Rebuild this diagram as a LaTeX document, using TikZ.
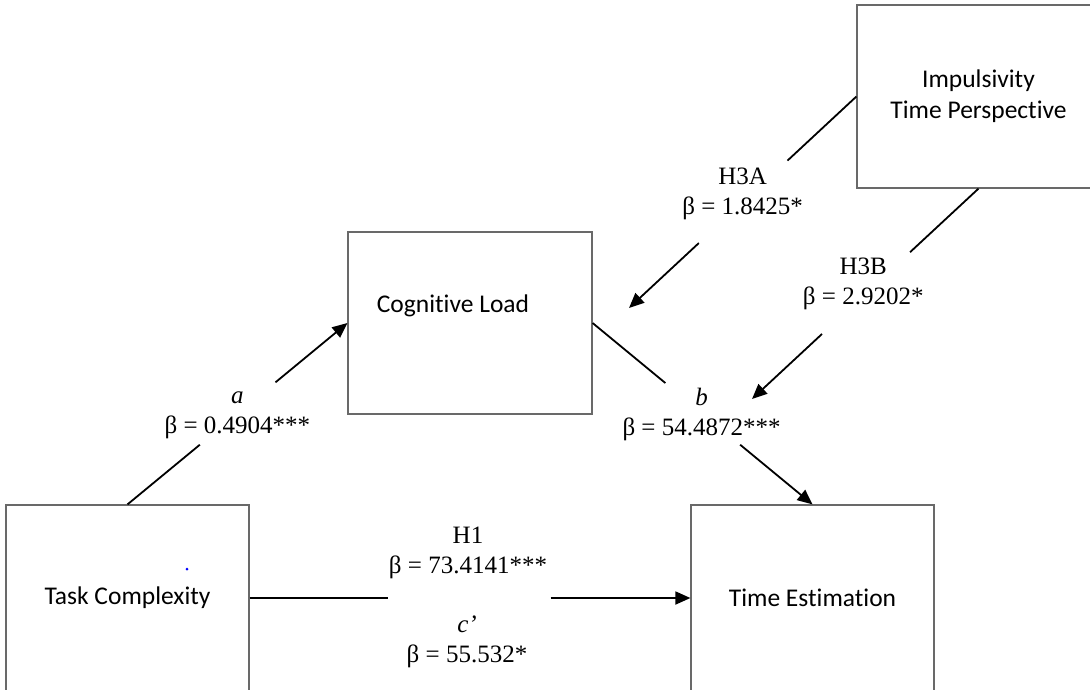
\documentclass[tikz,border=0pt]{standalone}
\usepackage{fontspec}
\setmainfont{Liberation Serif}
\newfontfamily\boxfont[Ligatures=NoCommon]{Carlito}
\usetikzlibrary{arrows.meta,calc}
\definecolor{boxgray}{RGB}{105,105,105}
\begin{document}
\begin{tikzpicture}[x=1pt,y=-1pt,
  varbox/.style={draw=boxgray, line width=1.2pt, inner sep=0pt, align=center,
    font=\boxfont\fontsize{25.5}{31}\selectfont},
  boxtext/.style={inner sep=0pt, font=\boxfont\fontsize{25.5}{31}\selectfont},
  link/.style={line width=1.8pt, black},
  arr/.style={link, -{Triangle[length=15pt,width=13pt]}},
  coef/.style={align=center, inner sep=0pt, font=\fontsize{25}{30}\selectfont}]

\useasboundingbox (0,0) rectangle (1090,689);
\clip (0,0) rectangle (1090,689);

% variables
\node[varbox, minimum width=243pt, minimum height=183pt] (imp) at (978.5,96.5)
  {Impulsivity\\Time Perspective};
\node[varbox, minimum width=244pt, minimum height=182pt] (cl) at (470,323) {};
\node[boxtext] (cltext) at (453,306) {Cognitive Load};
\node[varbox, minimum width=243pt, minimum height=186pt] (tc) at (127.5,598) {Task Complexity};
\node[varbox, minimum width=243pt, minimum height=186pt] (te) at (812.5,598) {Time Estimation};
\fill[blue] (187,569) circle (1.5pt);

% free ends of the moderation arrows
\coordinate (h3aend) at (629,308);
\coordinate (h3bend) at (752,399);

% path a
\draw[link] (tc.north) -- ($(tc.north)!0.329!(cl.west)$);
\draw[arr] ($(tc.north)!0.673!(cl.west)$) -- (cl.west);
\node[coef] (alab) at ($(tc.north)!0.5!(cl.west)+(0,2)$) {\textit{a}\\β = 0.4904***};

% path b
\draw[link] (cl.east) -- ($(cl.east)!0.331!(te.north)$);
\draw[arr] ($(cl.east)!0.671!(te.north)$) -- (te.north);
\node[coef] (blab) at ($(cl.east)!0.5!(te.north)+(-1,1)$) {\textit{b}\\β = 54.4872***};

% moderation H3A
\draw[link] (imp.west) -- ($(imp.west)!0.303!(h3aend)$);
\draw[arr] ($(imp.west)!0.693!(h3aend)$) -- (h3aend);
\node[coef] (h3alab) at ($(imp.west)!0.5!(h3aend)+(0,-8)$) {H3A\\β = 1.8425*};

% moderation H3B
\draw[link] (imp.south) -- ($(imp.south)!0.302!(h3bend)$);
\draw[arr] ($(imp.south)!0.691!(h3bend)$) -- (h3bend);
\node[coef] (h3blab) at ($(imp.south)!0.5!(h3bend)+(-2,-10)$) {H3B\\β = 2.9202*};

% direct path
\draw[link] (tc.east) -- ($(tc.east)!0.3145!(te.west)$);
\draw[arr] ($(tc.east)!0.683!(te.west)$) -- (te.west);
\node[coef] (h1lab) at ($(tc.east)!0.5!(te.west)+(-2,-45)$) {H1\\β = 73.4141***};
\node[coef] (cplab) at ($(tc.east)!0.5!(te.west)+(-3,44)$) {\textit{c’}\\β = 55.532*};
\end{tikzpicture}
\end{document}
